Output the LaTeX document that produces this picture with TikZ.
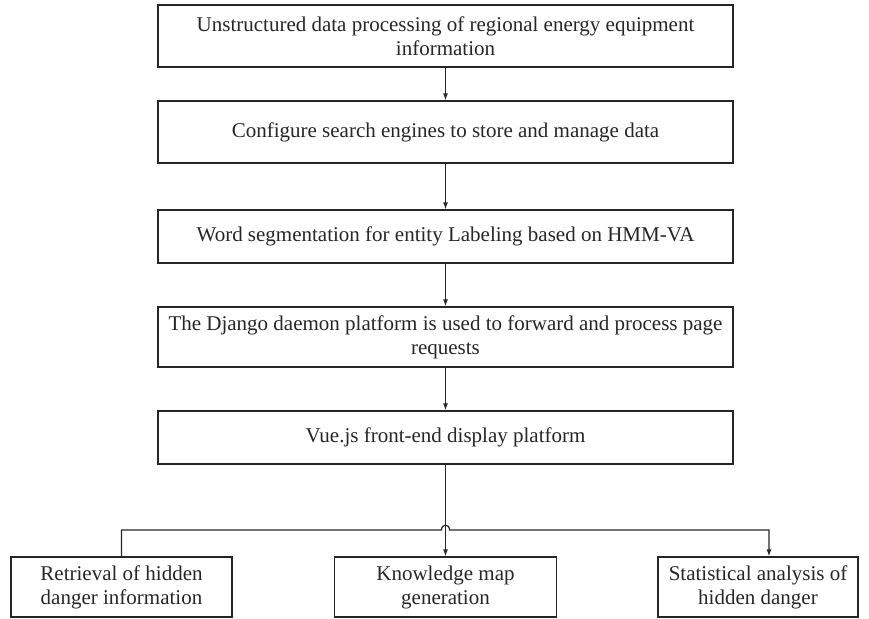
\documentclass[tikz,border=0pt]{standalone}
\usepackage{fontspec}
\setmainfont{Liberation Serif}
\usetikzlibrary{arrows.meta}
\begin{document}
\begin{tikzpicture}[x=1pt,y=-1pt,
  box/.style={draw=black!85, line width=1.2pt, align=center, inner sep=0pt,
    font=\fontsize{21}{24}\selectfont, text=black!85},
  link/.style={draw=black!85, line width=1.2pt},
  arr/.style={link, -{Latex[length=7pt,width=5pt]}}]
\useasboundingbox (0,0) rectangle (869,618);
% main column of processing steps
\node[box, minimum width=575pt, minimum height=62pt] (s1) at (445.5,36)
  {Unstructured data processing of regional energy equipment\\information};
\node[box, minimum width=575pt, minimum height=62pt] (s2) at (445.5,132)
  {Configure search engines to store and manage data};
\node[box, minimum width=575pt, minimum height=53pt] (s3) at (445.5,236.5)
  {Word segmentation for entity Labeling based on HMM-VA};
\node[box, minimum width=575pt, minimum height=60pt] (s4) at (445.5,337)
  {The Django daemon platform is used to forward and process page\\requests};
\node[box, minimum width=575pt, minimum height=53pt] (s5) at (445.5,437.5)
  {Vue.js front-end display platform};
% functions offered by the front end
\node[box, minimum width=221pt, minimum height=60pt] (f1) at (121.5,587)
  {Retrieval of hidden\\danger information};
\node[box, minimum width=222pt, minimum height=60pt] (f2) at (445.5,587)
  {Knowledge map\\generation};
\node[box, minimum width=200pt, minimum height=60pt] (f3) at (758,587)
  {Statistical analysis of\\hidden danger};
\draw[arr] (s1) -- (s2);
\draw[arr] (s2) -- (s3);
\draw[arr] (s3) -- (s4);
\draw[arr] (s4) -- (s5);
\draw[arr] (s5) -- (f2);
% branch line hopping over the vertical connector
\coordinate (jl) at (121.5,530);
\coordinate (jr) at (769,530);
\draw[arr] (f1.north) -- (jl) -- (441.5,530)
  .. controls (441.5,523.5) and (449.5,523.5) .. (449.5,530)
  -- (jr) -- (jr |- f3.north);
\end{tikzpicture}
\end{document}
